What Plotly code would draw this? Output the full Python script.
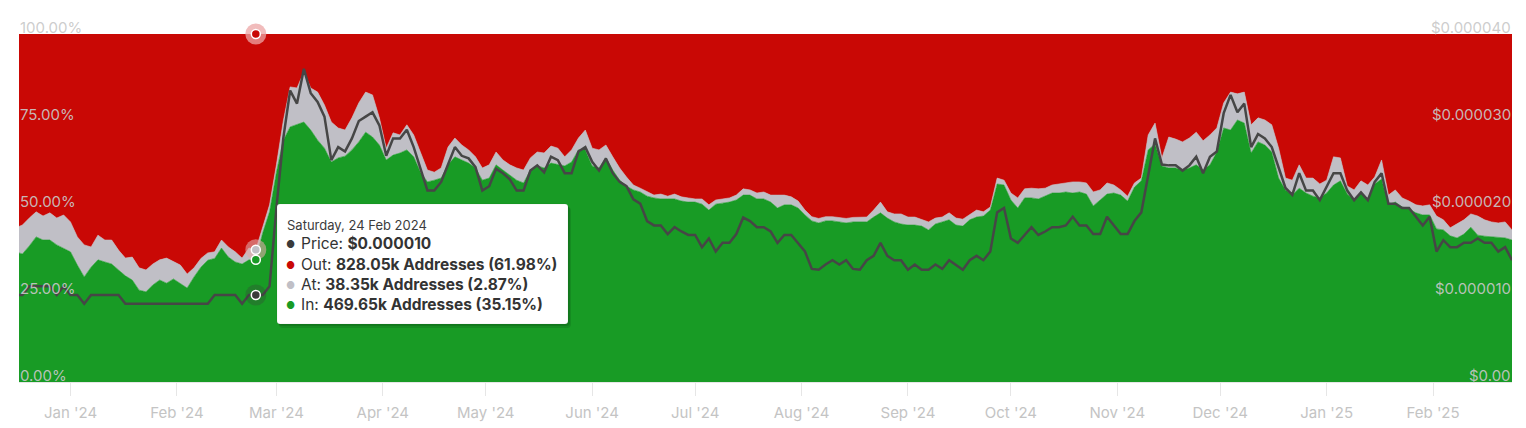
import pandas as pd
import plotly.graph_objects as go

# ---------------- data ----------------
# one sample every two days, starting 16 Dec 2023
dates = pd.date_range("2023-12-16", periods=219, freq="2D")

# % of addresses "In the money"
in_pct = [
    37.4, 36.8, 39.1, 41.7, 40.8, 40.8, 39.4, 38.5, 37.4, 33.6, 30.2, 33.0, 35.1, 34.5, 33.9, 32.2,
    30.5, 29.3, 26.4, 25.9, 27.9, 29.3, 28.4, 29.6, 28.2, 27.0, 30.2, 33.0, 35.0, 35.5, 38.5, 35.9,
    34.5, 33.9, 35.1, 35.15, 42.8, 48.9, 60.3, 69.5, 73.3, 73.9, 74.7, 72.4, 69.5, 67.2, 63.2, 64.4,
    64.9, 66.7, 69.0, 71.8, 70.4, 68.1, 63.8, 65.2, 65.8, 66.7, 64.7, 60.3, 57.5, 58.0, 58.6, 62.4,
    64.7, 63.8, 62.9, 61.5, 58.0, 58.6, 62.4, 60.9, 59.5, 58.0, 57.2, 60.9, 62.1, 61.5, 62.9, 62.6,
    62.1, 63.2, 66.7, 66.7, 62.1, 61.5, 64.4, 60.9, 58.0, 56.3, 55.2, 54.6, 53.4, 52.9, 52.6, 52.6,
    52.6, 52.0, 51.7, 51.7, 51.1, 49.4, 51.1, 51.4, 51.7, 52.3, 53.7, 53.7, 52.6, 52.6, 51.7, 50.0,
    50.9, 50.9, 50.0, 48.0, 46.3, 45.7, 46.3, 46.3, 46.0, 45.7, 46.0, 46.0, 46.0, 47.4, 48.6, 47.1,
    46.0, 45.4, 45.1, 45.1, 44.8, 43.7, 45.4, 46.0, 46.6, 45.1, 44.8, 46.6, 47.4, 47.7, 49.4, 56.9,
    56.6, 52.3, 50.0, 52.9, 52.9, 52.6, 53.4, 54.3, 54.3, 54.6, 54.3, 54.6, 54.0, 50.6, 52.3, 54.0,
    54.3, 53.7, 52.0, 56.0, 57.8, 66.7, 68.4, 62.1, 61.5, 61.5, 60.9, 61.5, 62.4, 60.9, 62.4, 66.1,
    73.0, 72.4, 75.3, 74.4, 65.8, 69.0, 68.1, 66.1, 58.6, 55.2, 53.7, 55.7, 54.3, 53.4, 52.9, 54.3,
    56.6, 57.8, 54.0, 52.3, 54.6, 52.6, 56.9, 58.3, 50.9, 51.7, 50.3, 49.7, 48.6, 48.0, 48.0, 44.0,
    43.7, 42.0, 41.4, 42.5, 44.5, 42.2, 41.9, 41.7, 41.4, 41.4, 40.8,
]

# % of addresses "At the money"
at_pct = [
    6.9, 8.3, 8.0, 7.2, 6.9, 7.8, 7.7, 9.5, 8.6, 8.1, 9.2, 5.8, 7.1, 6.3, 6.9, 5.7,
    5.1, 6.6, 6.4, 6.3, 6.0, 5.8, 7.2, 4.9, 5.4, 4.0, 2.6, 2.5, 2.1, 1.9, 2.3, 2.9,
    2.9, 1.7, 3.4, 2.87, 2.0, 2.0, 2.1, 5.5, 11.5, 10.6, 14.4, 12.1, 13.8, 12.4, 11.5, 8.6,
    7.5, 9.2, 11.2, 11.5, 12.1, 7.8, 3.4, 6.4, 5.2, 7.2, 6.3, 5.5, 3.4, 2.3, 2.9, 5.1,
    5.4, 4.3, 3.8, 3.2, 3.5, 3.8, 3.7, 2.9, 2.9, 3.5, 3.7, 3.5, 4.0, 4.3, 4.9, 4.6,
    2.6, 3.5, 3.4, 5.7, 5.1, 5.2, 3.7, 3.8, 3.5, 2.6, 1.4, 1.1, 1.2, 0.8, 1.4, 0.8,
    1.4, 1.2, 1.2, 0.9, 1.5, 1.5, 1.2, 1.2, 1.2, 1.4, 1.8, 1.5, 1.7, 2.0, 2.0, 3.7,
    2.8, 2.3, 2.0, 1.4, 1.2, 1.3, 1.2, 1.2, 1.3, 1.3, 1.3, 1.4, 1.4, 2.0, 3.1, 1.8,
    2.3, 2.9, 2.3, 2.3, 2.0, 2.3, 1.7, 1.4, 2.0, 2.0, 2.0, 1.4, 2.0, 1.2, 0.9, 1.7,
    1.4, 2.0, 2.9, 2.6, 2.8, 2.9, 2.3, 2.3, 2.6, 2.6, 3.2, 2.9, 3.2, 4.0, 2.9, 3.2,
    2.3, 1.5, 1.4, 1.2, 0.8, 4.3, 6.0, 2.3, 8.9, 8.3, 8.1, 8.6, 9.4, 8.4, 8.6, 6.9,
    7.2, 10.9, 7.5, 8.9, 8.1, 6.9, 7.2, 7.8, 8.6, 3.4, 4.3, 6.7, 4.3, 5.2, 4.0, 3.7,
    8.1, 6.6, 2.3, 2.9, 3.2, 4.0, 2.0, 5.5, 2.8, 3.5, 2.6, 2.3, 2.3, 2.6, 2.9, 3.7,
    2.9, 2.3, 4.0, 4.1, 3.8, 5.5, 4.7, 4.3, 4.3, 4.6, 2.9,
]

# token price, in millionths of a US dollar
price_e6 = [
    10, 10, 11, 11, 11, 11, 10, 11, 10, 10, 9, 10, 10, 10, 10, 10,
    9, 9, 9, 9, 9, 9, 9, 9, 9, 9, 9, 9, 9, 10, 10, 10,
    10, 9, 10, 10, 10, 11, 20, 28, 33.5, 32, 36, 33.2, 32.2, 30.5, 25.5, 27,
    26.5, 28, 30, 30.5, 31, 29.5, 26, 28, 28, 29, 27, 24.5, 22, 22, 23, 25,
    27, 26, 25.7, 24.7, 22, 22.5, 24.5, 24, 23.3, 22, 22, 24.3, 24.9, 24.1, 25.9, 25.5,
    24, 24, 26.5, 27, 25.3, 24.3, 25.7, 24, 23, 22.5, 21, 20.5, 18.5, 18, 18, 17,
    17.8, 17.3, 16.9, 16.9, 15.5, 16.5, 15, 16, 16, 17, 18.9, 18.5, 17.8, 17.8, 17.3, 16,
    16.9, 16.9, 16, 15, 13, 12.9, 13.5, 14, 13.5, 14, 13, 12.9, 14, 14.5, 16, 14.5,
    14, 14, 12.9, 13.5, 12.9, 12.9, 13.5, 13, 14, 13.5, 12.9, 14, 14.5, 14, 15, 19.5,
    20, 16.5, 16, 16.9, 17.8, 16.9, 17.3, 17.8, 17.8, 18, 19, 18, 18, 17, 17, 19,
    18, 17, 17, 18.5, 19.5, 24, 28, 25, 24.9, 24.9, 24.3, 24.9, 25.9, 24, 25.9, 26.5,
    30.9, 33, 31, 32, 27, 28.5, 28, 27, 24.7, 22.3, 21.5, 24, 22, 22, 20.9, 22.5,
    24, 24, 22, 20.9, 21.8, 20.9, 23, 24, 20.5, 20.5, 20, 20, 19, 18, 19, 15,
    16.3, 15.5, 15.5, 16, 16, 16.5, 16, 16, 15, 15.5, 14,
]

out_pct = [round(100 - i - a, 2) for i, a in zip(in_pct, at_pct)]
price = [p * 1e-6 for p in price_e6]

month_ticks = ["2024-01-01", "2024-02-01", "2024-03-01", "2024-04-01", "2024-05-01",
               "2024-06-01", "2024-07-01", "2024-08-01", "2024-09-01", "2024-10-01",
               "2024-11-01", "2024-12-01", "2025-01-01", "2025-02-01"]
month_labels = ["Jan '24", "Feb '24", "Mar '24", "Apr '24", "May '24", "Jun '24", "Jul '24",
                "Aug '24", "Sep '24", "Oct '24", "Nov '24", "Dec '24", "Jan '25", "Feb '25"]

pct_ticks = [0, 25, 50, 75, 100]
pct_labels = ["0.00%", "25.00%", "50.00%", "75.00%", "100.00%"]
price_ticks = [0, 0.00001, 0.00002, 0.00003, 0.00004]
price_labels = ["$0.00", "$0.000010", "$0.000020", "$0.000030", "$0.000040"]

# hovered point (tooltip)
hover_date = "2024-02-24"
hover_title = "Saturday, 24 Feb 2024"
hover_price = 0.000010
hover_out = ("828.05k", 61.98)
hover_at = ("38.35k", 2.87)
hover_in = ("469.65k", 35.15)

# ---------------- styling ----------------
RED = "#c90805"
GREEN = "#189b25"
GRAY = "#c0bfc6"
PRICE = "#464646"
FONT = "Inter"
W, H = 1526, 428
ML, MR, MT, MB = 19, 14, 34, 46
PW, PH = W - ML - MR, H - MT - MB

fig = go.Figure()
fig.add_trace(go.Scatter(x=dates, y=in_pct, stackgroup="s", mode="lines", name="In",
                         line=dict(width=0.6, color=GREEN), fillcolor=GREEN, hoverinfo="skip"))
fig.add_trace(go.Scatter(x=dates, y=at_pct, stackgroup="s", mode="lines", name="At",
                         line=dict(width=0.6, color=GRAY), fillcolor=GRAY, hoverinfo="skip"))
fig.add_trace(go.Scatter(x=dates, y=out_pct, stackgroup="s", mode="lines", name="Out",
                         line=dict(width=0.6, color=RED), fillcolor=RED, hoverinfo="skip"))

# hover markers on the stacked series
stack_pts = [(100, RED, "rgba(236,165,165,0.75)"),
             (hover_in[1] + hover_at[1], GRAY, "rgba(225,170,170,0.6)"),
             (hover_in[1], GREEN, None)]
for yv, col, halo in stack_pts:
    if halo:
        fig.add_trace(go.Scatter(x=[hover_date], y=[yv], mode="markers", cliponaxis=False,
                                 marker=dict(size=21, color=halo), hoverinfo="skip"))
    fig.add_trace(go.Scatter(x=[hover_date], y=[yv], mode="markers", cliponaxis=False,
                             marker=dict(size=9, color=col, line=dict(color="white", width=1.5)),
                             hoverinfo="skip"))

fig.add_trace(go.Scatter(x=dates, y=price, yaxis="y2", mode="lines", name="Price",
                         line=dict(color=PRICE, width=2.5), hoverinfo="skip"))
fig.add_trace(go.Scatter(x=[hover_date], y=[hover_price], yaxis="y2", mode="markers",
                         cliponaxis=False, marker=dict(size=21, color="rgba(60,60,60,0.3)"),
                         hoverinfo="skip"))
fig.add_trace(go.Scatter(x=[hover_date], y=[hover_price], yaxis="y2", mode="markers",
                         cliponaxis=False,
                         marker=dict(size=9, color="#3a3a3a", line=dict(color="white", width=1.5)),
                         hoverinfo="skip"))


def px(x):
    return (x - ML) / PW


def py(y):
    return (H - MB - y) / PH


def rrect(x0, y0, x1, y1, r):
    return (f"M {px(x0 + r)},{py(y0)} L {px(x1 - r)},{py(y0)} Q {px(x1)},{py(y0)} {px(x1)},{py(y0 + r)} "
            f"L {px(x1)},{py(y1 - r)} Q {px(x1)},{py(y1)} {px(x1 - r)},{py(y1)} "
            f"L {px(x0 + r)},{py(y1)} Q {px(x0)},{py(y1)} {px(x0)},{py(y1 - r)} "
            f"L {px(x0)},{py(y0 + r)} Q {px(x0)},{py(y0)} {px(x0 + r)},{py(y0)} Z")


shapes = [
    dict(type="path", xref="paper", yref="paper", layer="above",
         path=rrect(279, 207, 571, 328, 4), fillcolor="rgba(0,0,0,0.10)", line=dict(width=0)),
    dict(type="path", xref="paper", yref="paper", layer="above",
         path=rrect(278, 206, 570, 326, 4), fillcolor="rgba(0,0,0,0.12)", line=dict(width=0)),
    dict(type="path", xref="paper", yref="paper", layer="above",
         path=rrect(277, 204, 568, 324, 3), fillcolor="white",
         line=dict(width=1, color="rgba(0,0,0,0.06)")),
]

LABEL_COL = "rgba(200,200,200,0.92)"
annotations = []
for v, t in zip(pct_ticks, pct_labels):
    annotations.append(dict(x=0, xref="paper", y=v, yref="y", text=t, showarrow=False,
                            xanchor="left", yanchor="middle", yshift=7, xshift=-1,
                            font=dict(family=FONT, size=15, color=LABEL_COL)))
for v, t in zip(price_ticks, price_labels):
    annotations.append(dict(x=1, xref="paper", y=v, yref="y2", text=t, showarrow=False,
                            xanchor="right", yanchor="middle", yshift=7, xshift=1,
                            font=dict(family=FONT, size=15, color=LABEL_COL)))

# tooltip text
TXT = "#333333"
annotations.append(dict(x=px(285), y=py(225), xref="paper", yref="paper", text=hover_title,
                        showarrow=False, xanchor="left", yanchor="middle",
                        font=dict(family=FONT, size=13, color="#3c3c3c")))
rows = [
    (243, "#3a3a3a", f"Price: <b>${hover_price:.6f}</b>"),
    (264, RED, f"Out: <b>{hover_out[0]} Addresses ({hover_out[1]:.2f}%)</b>"),
    (284, GRAY, f"At: <b>{hover_at[0]} Addresses ({hover_at[1]:.2f}%)</b>"),
    (304, GREEN, f"In: <b>{hover_in[0]} Addresses ({hover_in[1]:.2f}%)</b>"),
]
for yv, col, txt in rows:
    annotations.append(dict(x=px(290), y=py(yv + 1), xref="paper", yref="paper", text="●",
                            showarrow=False, xanchor="center", yanchor="middle",
                            font=dict(family=FONT, size=10, color=col)))
    annotations.append(dict(x=px(298.5), y=py(yv), xref="paper", yref="paper", text=txt,
                            showarrow=False, xanchor="left", yanchor="middle",
                            font=dict(family=FONT, size=15.5, color=TXT)))

fig.update_layout(
    width=W, height=H,
    margin=dict(l=ML, r=MR, t=MT, b=MB, pad=0, autoexpand=False),
    paper_bgcolor="white", plot_bgcolor="white",
    showlegend=False,
    font=dict(family=FONT),
    xaxis=dict(type="date", range=["2023-12-17", "2025-02-24"], showgrid=False, zeroline=False,
               tickmode="array", tickvals=month_ticks, ticktext=month_labels,
               ticks="outside", ticklen=13, tickwidth=1, tickcolor="#e6e6e6",
               showline=True, linecolor="#e6e6e6", linewidth=1,
               tickfont=dict(family=FONT, size=15, color="#c4c4c4"), ticklabelstandoff=4,
               automargin=False, fixedrange=True),
    yaxis=dict(range=[0, 100], showgrid=False, zeroline=False, showticklabels=False,
               automargin=False, fixedrange=True),
    yaxis2=dict(range=[0, 0.00004], overlaying="y", side="right", showgrid=False,
                zeroline=False, showticklabels=False, automargin=False, fixedrange=True),
    shapes=shapes,
    annotations=annotations,
    hovermode=False,
)

fig.write_html("out.html")
